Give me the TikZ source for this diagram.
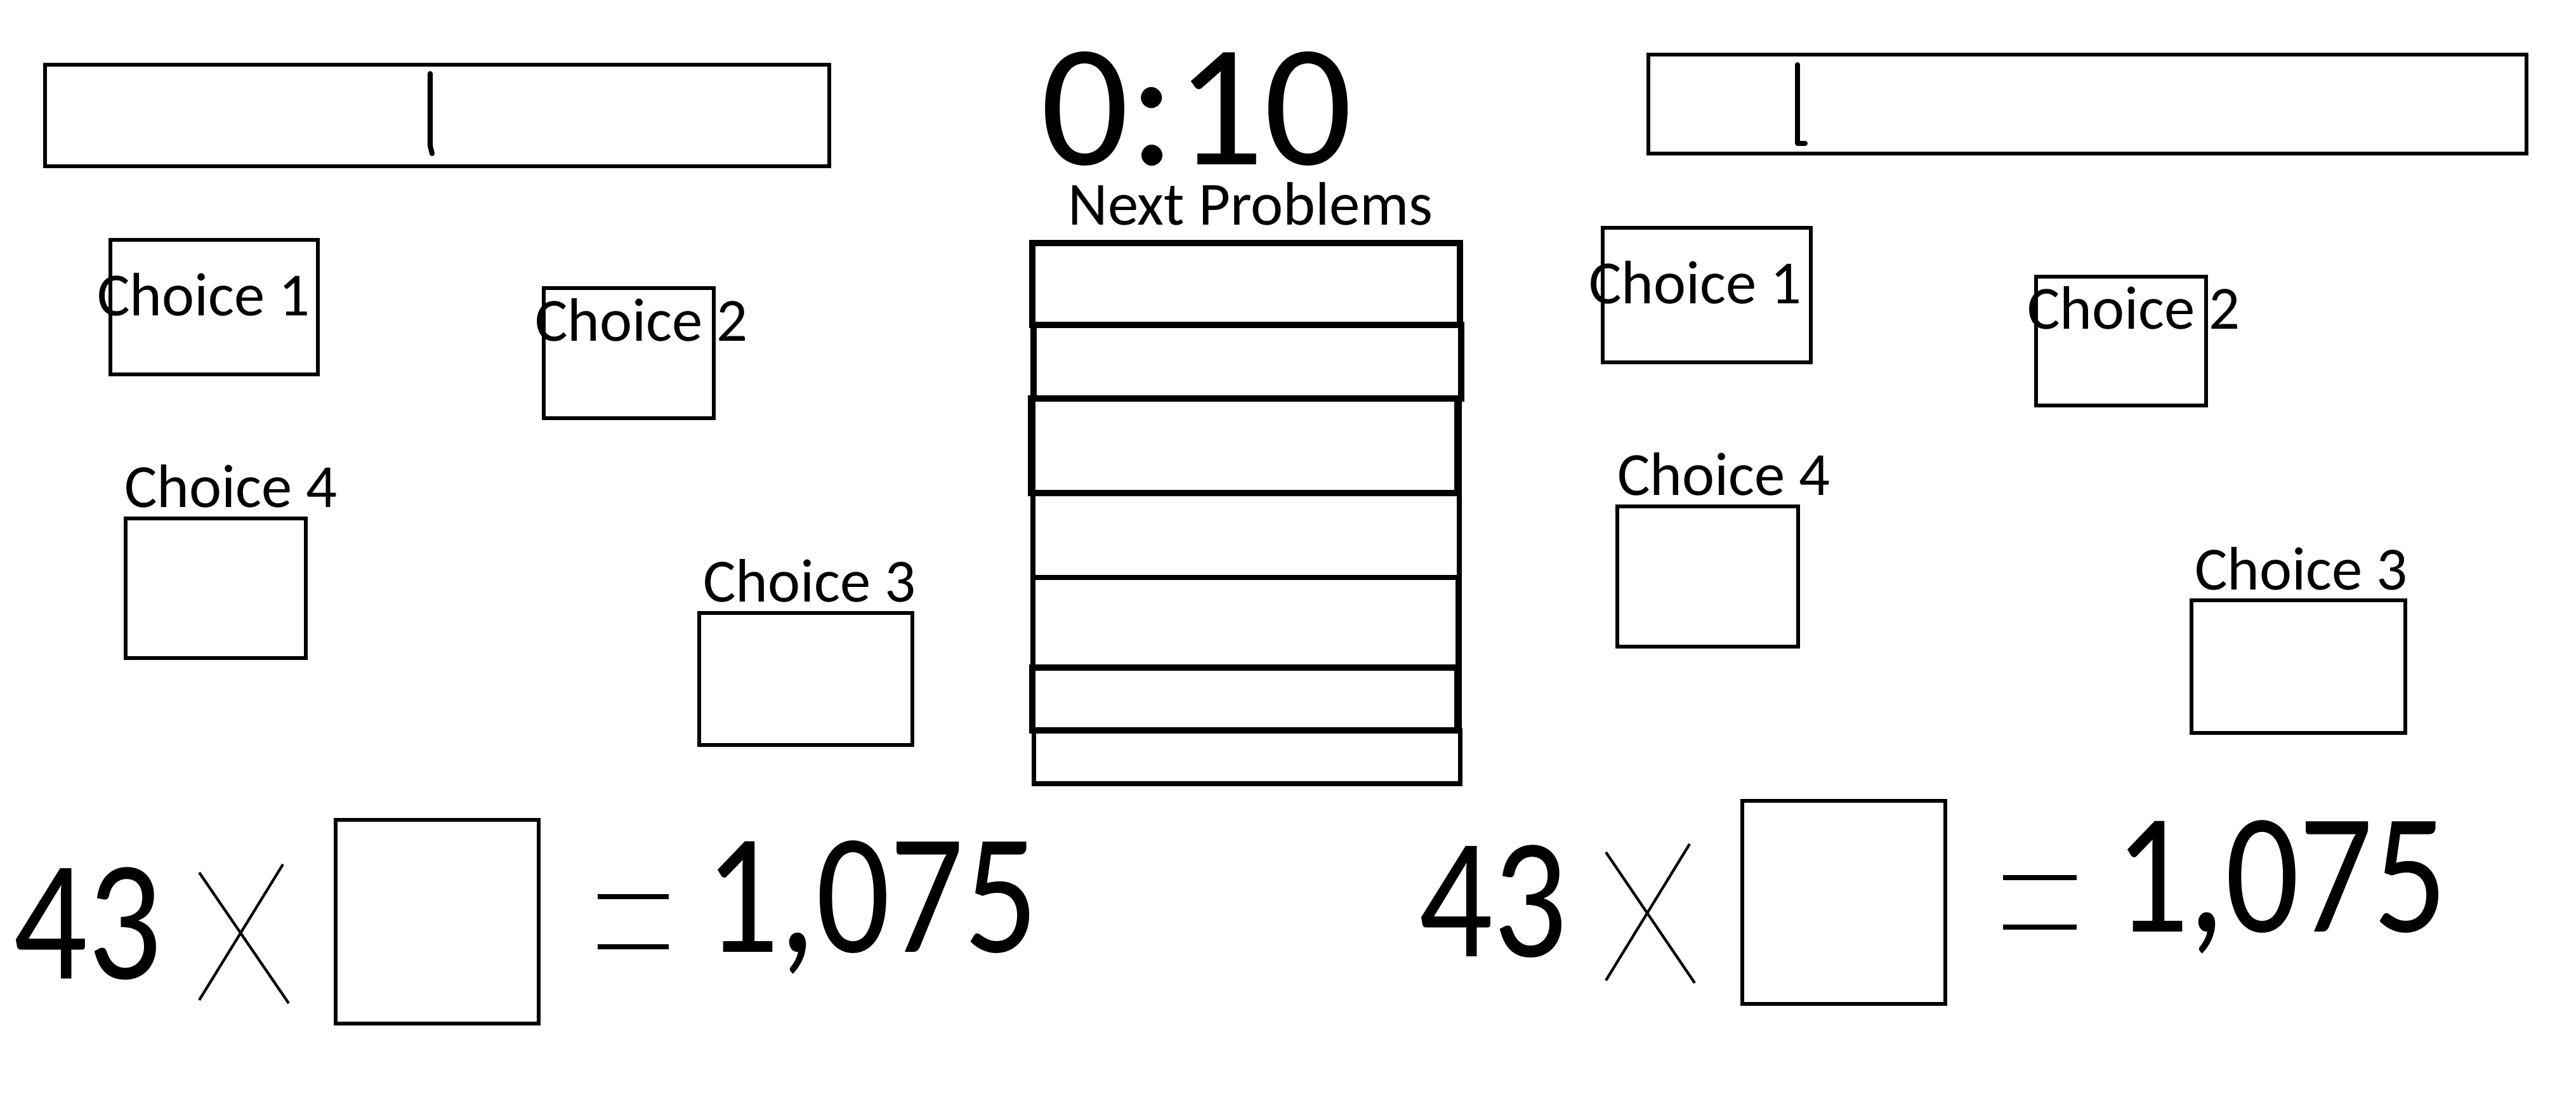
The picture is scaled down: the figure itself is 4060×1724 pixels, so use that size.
\documentclass[tikz,border=0pt]{standalone}
\usepackage{fontspec}
\setmainfont{Carlito}
\newfontfamily\eqfont[FakeStretch=0.85]{Carlito}

\begin{document}
\begin{tikzpicture}[x=0.01cm, y=-0.01cm, line width=1.8pt,
  choicelabel/.style={inner sep=0pt, anchor=base, font=\fontsize{27.5}{33}\selectfont},
  bignum/.style={inner sep=0pt, anchor=base, font=\eqfont\fontsize{77}{90}\selectfont},
  timerlabel/.style={inner sep=0pt, anchor=base, text depth=0pt, font=\fontsize{78}{90}\selectfont},
  cursor/.style={line width=2.3pt, line cap=round, line join=round},
  crossline/.style={line width=1.2pt},
  eqbar/.style={line width=2.3pt}]
  \useasboundingbox (0,0) rectangle (4060,1724);

  % answer bars with cursors
  \draw (71,102) rectangle (1307,262);
  \draw[cursor] (678,116) -- (678,230) -- (681,242);
  \draw (2598,86) rectangle (3982,242);
  \draw[cursor] (2833,102) -- (2833,226) -- (2845,226);

  % timer and queue
  \node[timerlabel] (timer) at (1886,259) {0:10};
  \node[choicelabel, text height=0.7em] (next) at (1971,354) {Next Problems};
  \draw (1629,383) rectangle (2301,1235);
  \draw[line width=3pt] (1627,383) rectangle (2301,512);
  \draw[line width=2.6pt] (1629,512) rectangle (2303,628);
  \draw[line width=3pt] (1625,628) rectangle (2297,777);
  \draw[line width=2pt] (1627,777) rectangle (2299,910);
  \draw[line width=2pt] (1627,910) rectangle (2297,1052);
  \draw[line width=3pt] (1627,1052) rectangle (2297,1151);
  \draw[line width=2pt] (1629,1151) rectangle (2301,1235);

  % left player
  \draw (174,378) rectangle (501,590);
  \node[choicelabel] (lc1) at (321,497) {Choice 1};
  \draw (857,454) rectangle (1125,659);
  \node[choicelabel] (lc2) at (1011,537) {Choice 2};
  \draw (198,817) rectangle (482,1037);
  \node[choicelabel] (lc4) at (364,799) {Choice 4};
  \draw (1102,966) rectangle (1438,1174);
  \node[choicelabel] (lc3) at (1276,948) {Choice 3};

  \node[bignum] (lnum) at (138,1542) {43};
  \draw[crossline] (314,1375) -- (455,1581);
  \draw[crossline] (446,1362) -- (314,1576);
  \draw (529,1292) rectangle (849,1613);
  \draw[eqbar] (942,1413) -- (1054,1413);
  \draw[eqbar] (942,1492) -- (1054,1492);
  \node[bignum] (lres) at (1374,1500) {1,075};

  % right player
  \draw (2526,359) rectangle (2854,571);
  \node[choicelabel] (rc1) at (2672,478) {Choice 1};
  \draw (3209,436) rectangle (3477,639);
  \node[choicelabel] (rc2) at (3363,518) {Choice 2};
  \draw (2549,798) rectangle (2834,1019);
  \node[choicelabel] (rc4) at (2717,780) {Choice 4};
  \draw (3454,946) rectangle (3791,1155);
  \node[choicelabel] (rc3) at (3627,929) {Choice 3};

  \node[bignum] (rnum) at (2353,1507) {43};
  \draw[crossline] (2531,1343) -- (2671,1549);
  \draw[crossline] (2663,1330) -- (2531,1545);
  \draw (2746,1262) rectangle (3066,1582);
  \draw[eqbar] (3157,1383) -- (3273,1383);
  \draw[eqbar] (3157,1461) -- (3273,1461);
  \node[bignum] (rres) at (3595,1468) {1,075};
\end{tikzpicture}
\end{document}
